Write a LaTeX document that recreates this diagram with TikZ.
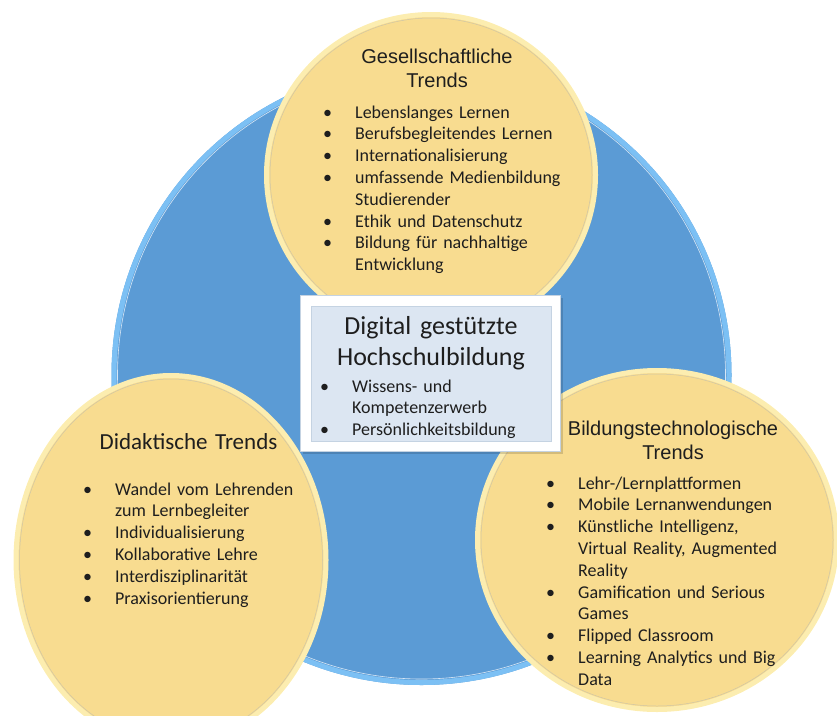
\documentclass[tikz,border=0pt]{standalone}
\usepackage{fontspec}
\setmainfont{Carlito}
\newfontfamily\headfont{Liberation Sans}
\usetikzlibrary{positioning}

\definecolor{hubblue}{HTML}{5B9BD5}
\definecolor{hubrim}{HTML}{7CC0F4}
\definecolor{trendfill}{HTML}{F8DC90}
\definecolor{trendrim}{HTML}{FCEDB0}
\definecolor{trendline}{HTML}{CFC6A6}
\definecolor{corefill}{HTML}{DCE6F2}
\definecolor{coreframe}{HTML}{C5D3E2}
\definecolor{inktext}{HTML}{1E1E1E}

\newcommand\trenditem[1]{\noindent\hangindent=32pt\hangafter=1\makebox[32pt][l]{\textbullet}#1\par}

\tikzset{
  trendshape/.style={fill=trendfill, draw=trendrim, line width=5pt},
  rimline/.style={draw=trendline, line width=0.5pt},
  trendlist/.style={anchor=base west, inner sep=0pt, text width=280pt, align=left, text=inktext, font=\fontsize{18pt}{21.8pt}\selectfont},
  trendtitle/.style={anchor=base, inner sep=0pt, text width=300pt, align=center, text=inktext},
}

\begin{document}
\begin{tikzpicture}[x=1pt, y=-1pt]
\useasboundingbox (0,0) rectangle (837,715);
\fill[hubblue] (421.5,375) circle [radius=310pt];
\draw[hubrim, line width=5pt] (421.5,375) circle [radius=307.5pt];
\draw[white!75!hubblue, line width=0.6pt] (421.5,375) circle [radius=304pt];

\draw[trendshape] (431,175) ellipse [x radius=164.5pt, y radius=160.5pt];
\draw[rimline] (431,175) ellipse [x radius=161pt, y radius=157pt];
\draw[trendshape] (171,560) ellipse [x radius=155pt, y radius=184.5pt];
\draw[rimline] (171,560) ellipse [x radius=151.5pt, y radius=181pt];
\draw[trendshape] (657,540) ellipse [x radius=179.5pt, y radius=169.5pt];
\draw[rimline] (657,540) ellipse [x radius=176pt, y radius=166pt];

\fill[black, opacity=0.15] (303,298) rectangle (563,454);
\draw[coreframe, fill=white, line width=1pt] (300,295) rectangle (560,451);
\draw[coreframe, fill=corefill, line width=0.6pt] (311,306) rectangle (551,441);

\node[trendtitle, font=\fontsize{26pt}{31pt}\selectfont] (coreTitle) at (431,334) {Digital gestützte\\Hochschulbildung};
\node[trendlist] (coreList) at (320,392) {\trenditem{Wissens- und\newline Kompetenzerwerb}\trenditem{Persönlichkeitsbildung}};

\node[trendtitle, font=\headfont\fontsize{20pt}{24.5pt}\selectfont] (gesellTitle) at (437,63) {Gesellschaftliche\\Trends};
\node[trendlist] (gesellList) at (323,118) {\trenditem{Lebenslanges Lernen}\trenditem{Berufsbegleitendes Lernen}\trenditem{Internationalisierung}\trenditem{umfassende Medienbildung\newline Studierender}\trenditem{Ethik und Datenschutz}\trenditem{Bildung für nachhaltige\newline Entwicklung}};

\node[trendtitle, font=\fontsize{23pt}{28pt}\selectfont] (didaktikTitle) at (188.5,449) {Didaktische Trends};
\node[trendlist] (didaktikList) at (83,495) {\trenditem{Wandel vom Lehrenden\newline zum Lernbegleiter}\trenditem{Individualisierung}\trenditem{Kollaborative Lehre}\trenditem{Interdisziplinarität}\trenditem{Praxisorientierung}};

\node[trendtitle, font=\headfont\fontsize{20pt}{24pt}\selectfont] (technikTitle) at (673,435) {Bildungstechnologische\\Trends};
\node[trendlist] (technikList) at (546,489) {\trenditem{Lehr-/Lernplattformen}\trenditem{Mobile Lernanwendungen}\trenditem{Künstliche Intelligenz,\newline Virtual Reality, Augmented\newline Reality}\trenditem{Gamification und Serious\newline Games}\trenditem{Flipped Classroom}\trenditem{Learning Analytics und Big\newline Data}};
\end{tikzpicture}
\end{document}
